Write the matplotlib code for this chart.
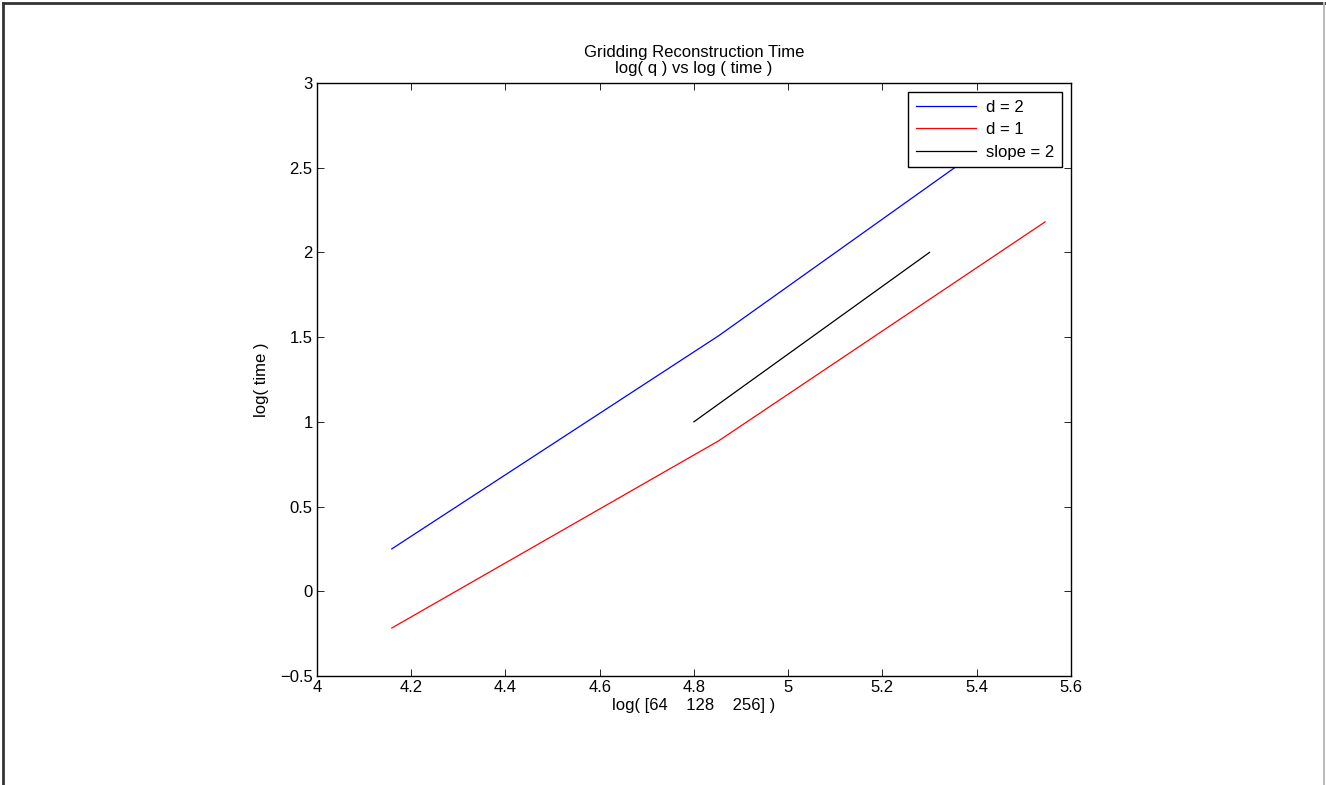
import numpy as np
import matplotlib
matplotlib.use('Agg')
import matplotlib.pyplot as plt
from matplotlib.lines import Line2D

plt.rcParams['font.family'] = ['Liberation Sans', 'DejaVu Sans']
plt.rcParams['font.size'] = 12

# grid sizes and timings (log scale)
q = np.array([64, 128, 256])
log_q = np.log(q)
time_d2 = [0.25, 1.507, 2.88]
time_d1 = [-0.217, 0.887, 2.18]
slope_x = [4.8, 5.3]
slope_y = [1.0, 2.0]

fig = plt.figure(figsize=(13.26, 7.85), dpi=100)
ax = fig.add_axes([0.239, 0.1389, 0.5686, 0.7554])

ax.plot(log_q, time_d2, color='blue', lw=0.9, label='d = 2')
ax.plot(log_q, time_d1, color='red', lw=0.9, label='d = 1')
ax.plot(slope_x, slope_y, color='black', lw=0.9, label='slope = 2')

ax.set_xlim(4, 5.6)
ax.set_ylim(-0.5, 3)
ax.set_xticks(np.arange(4, 5.61, 0.2))
ax.set_xticklabels(['4', '4.2', '4.4', '4.6', '4.8', '5', '5.2', '5.4', '5.6'])
ax.set_yticks(np.arange(-0.5, 3.01, 0.5))
ax.set_yticklabels(['\u22120.5', '0', '0.5', '1', '1.5', '2', '2.5', '3'])
ax.tick_params(direction='in', top=True, right=True, length=5, width=0.6, pad=3)
for s in ax.spines.values():
    s.set_linewidth(1.0)

ax.set_title('Gridding Reconstruction Time\nlog( q ) vs log ( time )', fontsize=12, pad=7, linespacing=1.1)
ax.set_xlabel('log( [64    128    256] )', labelpad=2)
ax.set_ylabel('log( time )', labelpad=8)

leg = ax.legend(loc='upper right', fancybox=False, framealpha=1, edgecolor='black',
                borderaxespad=0.55, handlelength=3.6, labelspacing=0.45, borderpad=0.45,
                handletextpad=0.6)
leg.get_frame().set_linewidth(1.0)

# outer frame of the figure window
fig.add_artist(Line2D([0.0025, 0.0025], [0, 0.996], transform=fig.transFigure, color='#333333', lw=2))
fig.add_artist(Line2D([0.0025, 0.9995], [0.996, 0.996], transform=fig.transFigure, color='#333333', lw=2))
fig.add_artist(Line2D([0.9985, 0.9985], [0, 0.996], transform=fig.transFigure, color='#bbbbbb', lw=1.5))

fig.savefig('out.png', dpi=100)
